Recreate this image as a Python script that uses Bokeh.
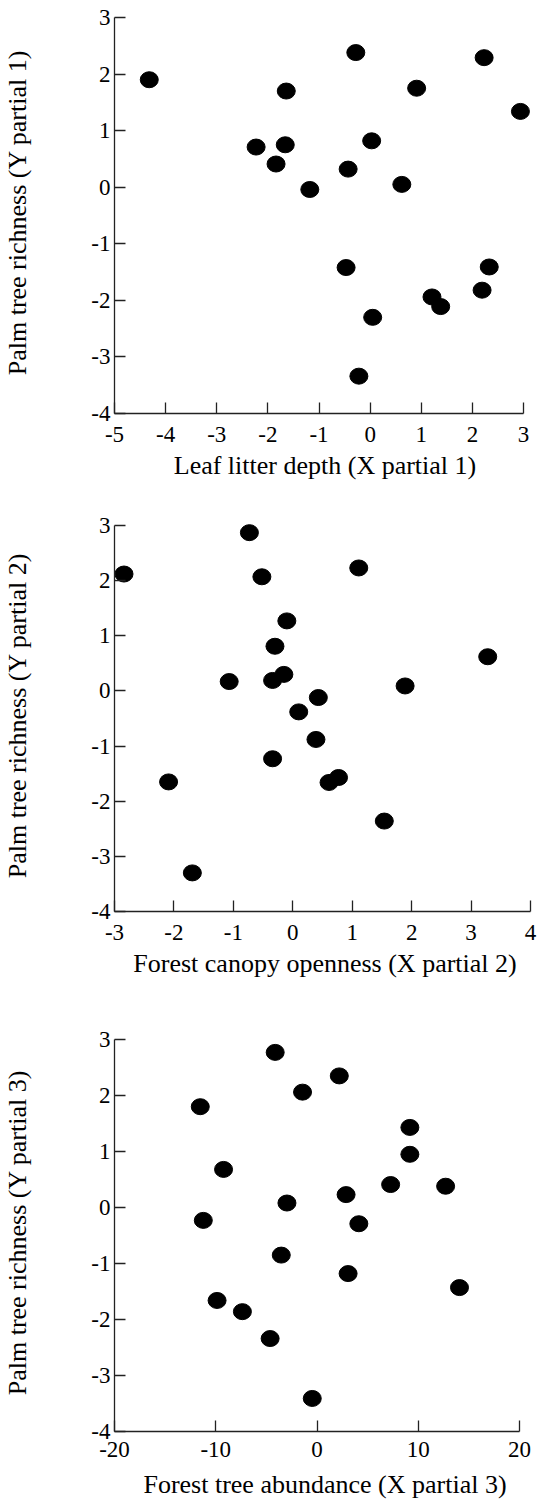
from bokeh.plotting import figure
from bokeh.layouts import column
from bokeh.models import Range1d, FixedTicker
from bokeh.embed import file_html
from bokeh.resources import INLINE

# ---------------- data ----------------
# Panel 1: Leaf litter depth (X partial 1)
p1_x = [-4.32, -0.28, 2.23, -1.64, 0.91, 2.94, -2.23, -1.66, -1.84, 0.03,
        -0.43, -1.18, 0.62, -0.47, 2.33, 2.19, 1.21, 1.38, 0.05, -0.22]
p1_y = [1.90, 2.38, 2.29, 1.70, 1.75, 1.34, 0.71, 0.75, 0.41, 0.82,
        0.32, -0.04, 0.05, -1.42, -1.41, -1.82, -1.94, -2.11, -2.30, -3.34]

# Panel 2: Forest canopy openness (X partial 2)
p2_x = [-0.73, -2.84, -0.52, 1.11, -0.10, -0.30, 3.28, -1.07, -0.34, -0.15,
        1.89, 0.43, 0.10, 0.39, -0.34, -2.09, 0.61, 0.77, 1.54, -1.69]
p2_y = [2.87, 2.12, 2.07, 2.23, 1.27, 0.81, 0.62, 0.17, 0.19, 0.30,
        0.09, -0.12, -0.38, -0.88, -1.23, -1.65, -1.66, -1.57, -2.36, -3.30]

# Panel 3: Forest tree abundance (X partial 3)
p3_x = [-4.13, 2.2, -1.43, -11.53, 9.17, 9.17, -9.23, 7.27, 12.7, 2.87,
        -2.97, -11.23, 4.13, -3.53, 3.07, 14.07, -9.87, -7.37, -4.63, -0.47]
p3_y = [2.77, 2.35, 2.06, 1.80, 1.43, 0.95, 0.68, 0.41, 0.38, 0.23,
        0.08, -0.23, -0.29, -0.85, -1.18, -1.43, -1.66, -1.86, -2.34, -3.41]

x1_ticks = [-5, -4, -3, -2, -1, 0, 1, 2, 3]
x1_labels = ["-5", "-4", "-3", "-2", "-1", "0", "1", "2", "3"]
x2_ticks = [-3, -2, -1, 0, 1, 2, 3, 4]
x2_labels = ["-3", "-2", "-1", "0", "1", "2", "3", "4"]
x3_ticks = [-20, -10, 0, 10, 20]
x3_labels = ["-20", "-10", "0", "10", "20"]
y_ticks = [-4, -3, -2, -1, 0, 1, 2, 3]
y_labels = ["-4", "-3", "-2", "-1", "0", "1", "2", "3"]

x1_title = "Leaf litter depth (X partial 1)"
x2_title = "Forest canopy openness (X partial 2)"
x3_title = "Forest tree abundance (X partial 3)"
y1_title = "Palm tree richness (Y partial 1)"
y2_title = "Palm tree richness (Y partial 2)"
y3_title = "Palm tree richness (Y partial 3)"

FONT = "Liberation Serif"
W = 537


def panel(xs, ys, xticks, xlabels, xtitle, ytitle,
          fig_top, fig_bottom, ax_left, ax_right, ax_top, ax_bottom,
          x_std, x_lab_std):
    mbl = ax_left
    mbr = 2
    frame_w = W - mbl - mbr
    ppx = (ax_right - ax_left) / (xticks[-1] - xticks[0])
    x0 = xticks[0]
    x1 = x0 + frame_w / ppx
    mbt = ax_top - 6 - fig_top
    mbb = fig_bottom - ax_bottom
    H = fig_bottom - fig_top
    frame_h = H - mbt - mbb
    ppy = (ax_bottom - ax_top) / (y_ticks[-1] - y_ticks[0])
    y0 = y_ticks[0]
    y1 = y0 + frame_h / ppy

    p = figure(width=W, height=H, x_range=Range1d(x0, x1), y_range=Range1d(y0, y1),
               output_backend="svg", toolbar_location=None,
               min_border_left=mbl, min_border_right=mbr,
               min_border_top=mbt, min_border_bottom=mbb)
    p.outline_line_color = None
    p.grid.visible = False
    p.background_fill_color = "white"
    p.ellipse(x=xs, y=ys, width=18, height=16,
              width_units="screen", height_units="screen",
              fill_color="black", line_color="black")

    for ax, ticks, labels in ((p.xaxis[0], xticks, xlabels), (p.yaxis[0], y_ticks, y_labels)):
        ax.ticker = FixedTicker(ticks=ticks)
        ax.major_label_overrides = {t: l for t, l in zip(ticks, labels)}
        ax.bounds = (ticks[0], ticks[-1])
        ax.axis_line_color = "#222222"
        ax.axis_line_width = 1.3
        ax.major_tick_line_color = "#222222"
        ax.major_tick_line_width = 1.3
        ax.major_tick_in = 11
        ax.major_tick_out = 0
        ax.minor_tick_line_color = None
        ax.major_label_text_font = FONT
        ax.major_label_text_font_size = "23px"
        ax.major_label_text_color = "black"
        ax.axis_label_text_font = FONT
        ax.axis_label_text_font_size = "26px"
        ax.axis_label_text_font_style = "normal"
        ax.axis_label_text_color = "black"

    p.xaxis[0].axis_label = xtitle
    p.yaxis[0].axis_label = ytitle
    p.xaxis[0].major_label_standoff = x_std
    p.xaxis[0].axis_label_standoff = x_lab_std
    p.yaxis[0].major_label_standoff = 4
    p.yaxis[0].axis_label_standoff = 56
    return p


f1 = panel(p1_x, p1_y, x1_ticks, x1_labels, x1_title, y1_title,
           0, 495, 114, 523, 17, 413, 13, 6)
f2 = panel(p2_x, p2_y, x2_ticks, x2_labels, x2_title, y2_title,
           495, 995, 114, 530, 525, 911, 13, 6)
f3 = panel(p3_x, p3_y, x3_ticks, x3_labels, x3_title, y3_title,
           995, 1501, 113, 519, 1039, 1431, 10, 10)

layout = column(f1, f2, f3, spacing=0)
open("out.html", "w").write(file_html(layout, INLINE))
